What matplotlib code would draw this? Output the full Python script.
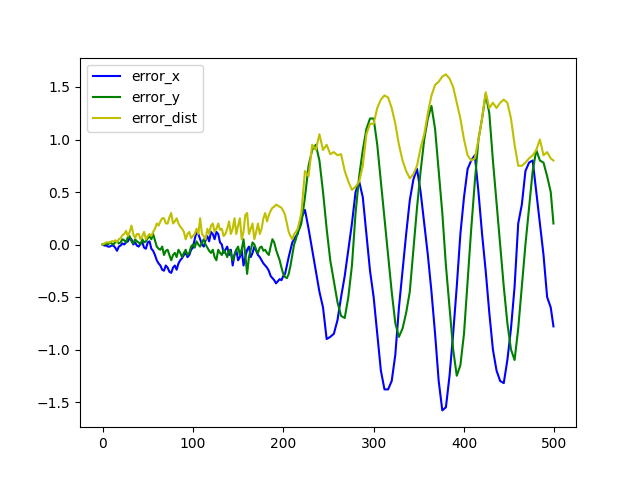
import matplotlib
matplotlib.use("Agg")
import matplotlib.pyplot as plt

x = list(range(0, 221, 2)) + list(range(224, 500, 4)) + [499]

error_x = [
    0.0, -0.01, -0.01, -0.02, -0.02, -0.01, -0.01, -0.03, -0.06, -0.02,
    -0.01, 0.01, 0.0, 0.02, 0.03, 0.06, 0.05, 0.0, 0.02, -0.01,
    -0.02, 0.01, 0.02, -0.03, -0.04, 0.02, 0.03, -0.04, -0.06, -0.1,
    -0.15, -0.18, -0.2, -0.24, -0.25, -0.2, -0.22, -0.26, -0.27, -0.22,
    -0.2, -0.24, -0.18, -0.15, -0.13, -0.1, -0.08, -0.12, -0.1, -0.05,
    -0.03, 0.05, 0.12, 0.1, 0.05, 0.0, -0.02, 0.04, 0.08, 0.03,
    0.12, 0.1, 0.05, 0.12, 0.1, 0.02, 0.0, -0.08, -0.05, -0.02,
    -0.1, -0.05, -0.2, -0.1, -0.05, -0.15, -0.12, -0.05, -0.2, -0.12,
    -0.05, -0.02, -0.12, -0.08, -0.02, -0.06, -0.1, -0.12, -0.15, -0.18,
    -0.2, -0.22, -0.25, -0.3, -0.32, -0.34, -0.37, -0.35, -0.33, -0.34,
    -0.3, -0.28, -0.2, -0.12, -0.05, 0.02, 0.05, 0.08, 0.1, 0.18,
    0.25,
    0.33, 0.15, -0.05, -0.25,
    -0.45, -0.6, -0.9, -0.88, -0.85, -0.72, -0.5, -0.3, -0.05, 0.2,
    0.5, 0.6, 0.45, 0.1, -0.25, -0.5, -0.85, -1.2, -1.38, -1.38,
    -1.3, -1.05, -0.6, -0.25, 0.1, 0.42, 0.62, 0.72, 0.5, 0.2,
    -0.1, -0.45, -0.85, -1.3, -1.58, -1.55, -1.25, -0.85, -0.4, 0.1,
    0.45, 0.72, 0.8, 0.85, 0.5, 0.1, -0.25, -0.65, -1.0, -1.2,
    -1.3, -1.32, -1.1, -0.8, -0.4, 0.2, 0.38, 0.7, 0.78, 0.8,
    0.5, 0.2, -0.1, -0.5, -0.6, -0.78,
]

error_y = [
    0.0, 0.0, 0.01, 0.0, 0.02, 0.01, 0.0, 0.02, 0.03, 0.01,
    0.02, 0.05, 0.04, 0.02, 0.07, 0.08, 0.03, 0.01, 0.05, 0.03,
    0.02, 0.0, 0.05, 0.02, 0.03, 0.06, 0.08, 0.05, 0.1, 0.04,
    -0.02, -0.04, -0.05, -0.02, -0.1, -0.06, -0.05, -0.1, -0.15, -0.1,
    -0.08, -0.12, -0.05, -0.08, -0.12, -0.08, -0.05, -0.1, -0.08, -0.02,
    0.0, -0.03, 0.03, 0.0, -0.02, 0.02, 0.05, 0.0, -0.03, -0.06,
    -0.08, -0.05, -0.12, -0.15, -0.05, -0.08, -0.1, -0.05, -0.08, -0.12,
    -0.05, -0.08, -0.15, -0.1, -0.05, -0.02, -0.1, -0.05, 0.05, -0.1,
    -0.28, -0.12, -0.05, 0.02, 0.0, -0.05, -0.08, -0.03, -0.02, -0.06,
    -0.05, -0.08, -0.1, -0.02, 0.05, 0.02, -0.05, -0.1, -0.15, -0.22,
    -0.28, -0.31, -0.32, -0.28, -0.2, -0.1, 0.0, 0.05, 0.12, 0.15,
    0.2,
    0.45, 0.75, 0.9, 0.95,
    0.8, 0.5, 0.15, -0.15, -0.35, -0.55, -0.68, -0.7, -0.5, -0.2,
    0.3, 0.65, 0.9, 1.1, 1.2, 1.2, 0.95, 0.6, 0.25, -0.1,
    -0.45, -0.75, -0.88, -0.8, -0.65, -0.45, -0.05, 0.35, 0.7, 1.0,
    1.2, 1.32, 1.1, 0.7, 0.3, -0.2, -0.6, -1.0, -1.25, -1.15,
    -0.85, -0.35, 0.15, 0.6, 1.0, 1.2, 1.43, 1.25, 0.8, 0.4,
    0.0, -0.4, -0.75, -1.0, -1.1, -0.8, -0.4, 0.0, 0.35, 0.7,
    0.9, 0.8, 0.78, 0.65, 0.5, 0.2,
]

error_dist = [
    0.0, 0.01, 0.02, 0.02, 0.02, 0.03, 0.03, 0.04, 0.02, 0.05,
    0.06, 0.09, 0.1, 0.13, 0.08, 0.12, 0.18, 0.1, 0.06, 0.1,
    0.1, 0.05, 0.08, 0.12, 0.05, 0.08, 0.1, 0.08, 0.12, 0.15,
    0.2, 0.18, 0.22, 0.25, 0.25, 0.2, 0.2, 0.26, 0.3, 0.2,
    0.22, 0.25, 0.2, 0.17, 0.15, 0.12, 0.05, 0.1, 0.12, 0.06,
    0.08, 0.1, 0.15, 0.1, 0.25, 0.1, 0.08, 0.05, 0.15, 0.1,
    0.18, 0.2, 0.12, 0.15, 0.2, 0.14, 0.15, 0.08, 0.1, 0.15,
    0.22, 0.1, 0.15, 0.25, 0.1, 0.18, 0.25, 0.05, 0.12, 0.28,
    0.3, 0.1, 0.15, 0.2, 0.05, 0.12, 0.2, 0.1, 0.15, 0.25,
    0.3, 0.22, 0.28, 0.32, 0.35, 0.36, 0.38, 0.37, 0.36, 0.35,
    0.32, 0.28, 0.2, 0.12, 0.08, 0.05, 0.1, 0.12, 0.15, 0.22,
    0.3,
    0.7, 0.65, 0.95, 0.9,
    1.05, 0.9, 0.95, 0.86, 0.88, 0.85, 0.86, 0.7, 0.6, 0.52,
    0.55, 0.6, 0.75, 1.05, 1.15, 1.15, 1.3, 1.38, 1.42, 1.4,
    1.3, 1.15, 0.95, 0.8, 0.7, 0.63, 0.67, 0.75, 0.92, 1.05,
    1.25, 1.42, 1.52, 1.55, 1.6, 1.62, 1.58, 1.5, 1.35, 1.2,
    1.0, 0.85, 0.8, 0.82, 1.0, 1.2, 1.45, 1.3, 1.35, 1.3,
    1.35, 1.38, 1.35, 1.2, 0.95, 0.75, 0.75, 0.78, 0.82, 0.85,
    0.9, 1.0, 0.85, 0.88, 0.82, 0.8,
]

fig, ax = plt.subplots(figsize=(6.4, 4.8), dpi=100)
ax.plot(x, error_x, color="b", label="error_x")
ax.plot(x, error_y, color="g", label="error_y")
ax.plot(x, error_dist, color="y", label="error_dist")
ax.legend(loc="upper left")
fig.savefig("out.png", dpi=100)
